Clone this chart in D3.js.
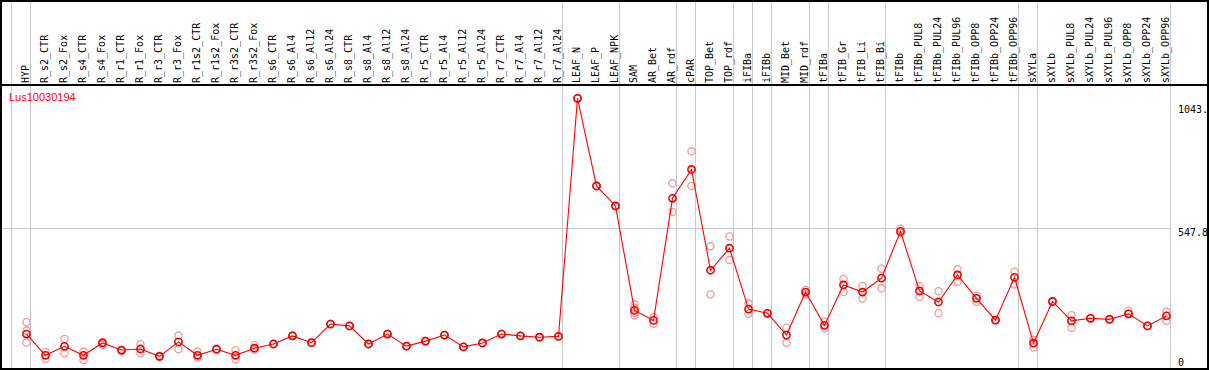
<!DOCTYPE html>
<html><head><meta charset="utf-8">
<script src="https://cdn.jsdelivr.net/npm/d3@7"></script>
<style>html,body{margin:0;padding:0;background:#fff;overflow:hidden}svg{display:block}</style>
</head><body>
<script>
const categories = ["HYP","R_s2_CTR","R_s2_Fox","R_s4_CTR","R_s4_Fox","R_r1_CTR","R_r1_Fox","R_r3_CTR","R_r3_Fox","R_r1s2_CTR","R_r1s2_Fox","R_r3s2_CTR","R_r3s2_Fox","R_s6_CTR","R_s6_Al4","R_s6_Al12","R_s6_Al24","R_s8_CTR","R_s8_Al4","R_s8_Al12","R_s8_Al24","R_r5_CTR","R_r5_Al4","R_r5_Al12","R_r5_Al24","R_r7_CTR","R_r7_Al4","R_r7_Al12","R_r7_Al24","LEAF_N","LEAF_P","LEAF_NPK","SAM","AR_Bet","AR_rdf","cPAR","TOP_Bet","TOP_rdf","iFIBa","iFIBb","MID_Bet","MID_rdf","tFIBa","tFIB_Gr","tFIB_Li","tFIB_Bi","tFIBb","tFIBb_PUL8","tFIBb_PUL24","tFIBb_PUL96","tFIBb_OPP8","tFIBb_OPP24","tFIBb_OPP96","sXYLa","sXYLb","sXYLb_PUL8","sXYLb_PUL24","sXYLb_PUL96","sXYLb_OPP8","sXYLb_OPP24","sXYLb_OPP96"];
const meanValues = [145,64,98,64,111,84,88,60,115,64,87,64,91,107,138,112,183,176,107,145,99,118,141,96,111,145,138,133,136,1043,709,633,235,197,662,772,388,472,240,224,141,305,178,332,305,358,536,309,267,370,281,198,361,110,269,195,205,201,222,176,214];
const replicateValues = [
 [190,158,113],[77,51],[126,72],[78,46],[104,115],[84,80],[106,72],[58,62],[139,87],[78,56],[86,89],[83,49],[103,85],[107,107],[138,138],
 [112,112],[183,183],[176,176],[107,107],[145,145],[99,99],[118,118],[141,141],[96,96],[111,111],[145,145],[138,138],[133,133],[136,136],
 [1043,1043],[709,709],[633,633],[258,245,226,216],[210,184],[719,610],[841,709],[479,296],[517,427],[261,222],[224,224],[169,112],[313,297],[192,167],[355,306],[328,280],[394,319],[546,530],
 [327,287],[308,224],[392,344],[291,268],[198,198],[382,334],[122,94],[269,269],[217,169],[205,205],[201,201],[234,222],[176,176],[230,196]
];
const groupBoundaries = [0,1,29,32,35,36,38,39,40,42,43,46,53,54,61];
const tickValues = [1043, 547.8, 0];
const tickLabels = ["1043.", "547.8", "0"];
const geneLabel = "Lus10030194";

const W = 1209, H = 370;
const svg = d3.select("body").append("svg").attr("width", W).attr("height", H);

const colW = 19, x0 = 11;
const xb = d3.scaleLinear().domain([0, categories.length]).range([x0, x0 + colW * categories.length]);
const xp = i => xb(i) + 15.5;
const y = d3.scaleLinear().domain([0, 1043]).range([372.1, 98.3]);

// gridline at middle tick
svg.append("line").attr("x1", 1).attr("x2", xb(61) + 0.5)
  .attr("y1", Math.round(y(547.8)) + 0.5).attr("y2", Math.round(y(547.8)) + 0.5)
  .attr("stroke", "#c8c8c8").attr("stroke-width", 1);

// group vertical lines
svg.selectAll("line.g").data(groupBoundaries).enter().append("line")
  .attr("x1", d => Math.round(xb(d)) + 0.5).attr("x2", d => Math.round(xb(d)) + 0.5)
  .attr("y1", 0).attr("y2", H)
  .attr("stroke", "#c8c8c8").attr("stroke-width", 1);

// category labels
svg.selectAll("text.cat").data(categories).enter().append("text")
  .attr("transform", (d, i) => `translate(${xb(i) + 17.5},83) rotate(-90)`)
  .attr("font-family", "DejaVu Sans Mono").attr("font-size", 10)
  .attr("fill", "#000").text(d => d);

// replicates
const reps = [];
replicateValues.forEach((arr, i) => arr.forEach(v => reps.push({i, v})));
svg.selectAll("circle.rep").data(reps).enter().append("circle")
  .attr("cx", d => xp(d.i)).attr("cy", d => y(d.v)).attr("r", 3.6)
  .attr("fill", "none").attr("stroke", "#f29a9a").attr("stroke-width", 1.3);

// mean line
svg.append("path").datum(meanValues)
  .attr("d", d3.line().x((d, i) => xp(i)).y(d => y(d)))
  .attr("fill", "none").attr("stroke", "#ff0000").attr("stroke-width", 1.1);

// mean points
svg.selectAll("circle.mean").data(meanValues).enter().append("circle")
  .attr("cx", (d, i) => xp(i)).attr("cy", d => y(d)).attr("r", 3.6)
  .attr("fill", "none").attr("stroke", "#ee0000").attr("stroke-width", 1.6);

// gene label
svg.append("text").attr("x", 9).attr("y", 101)
  .attr("font-family", "Liberation Sans").attr("font-size", 11)
  .attr("fill", "#ff0000").text(geneLabel);

// right tick labels
svg.selectAll("text.tick").data(tickValues).enter().append("text")
  .attr("x", 1178)
  .attr("y", d => Math.min(Math.max(y(d) + 8, 112.5), 366))
  .attr("font-family", "DejaVu Sans Mono").attr("font-size", 10)
  .attr("fill", "#000").text((d, i) => tickLabels[i]);

// header line and border
svg.append("line").attr("x1", 0).attr("x2", W).attr("y1", 85).attr("y2", 85)
  .attr("stroke", "#000").attr("stroke-width", 2);
svg.append("rect").attr("x", 1).attr("y", 1).attr("width", 1207).attr("height", 368)
  .attr("fill", "none").attr("stroke", "#000").attr("stroke-width", 2);
</script>
</body></html>
